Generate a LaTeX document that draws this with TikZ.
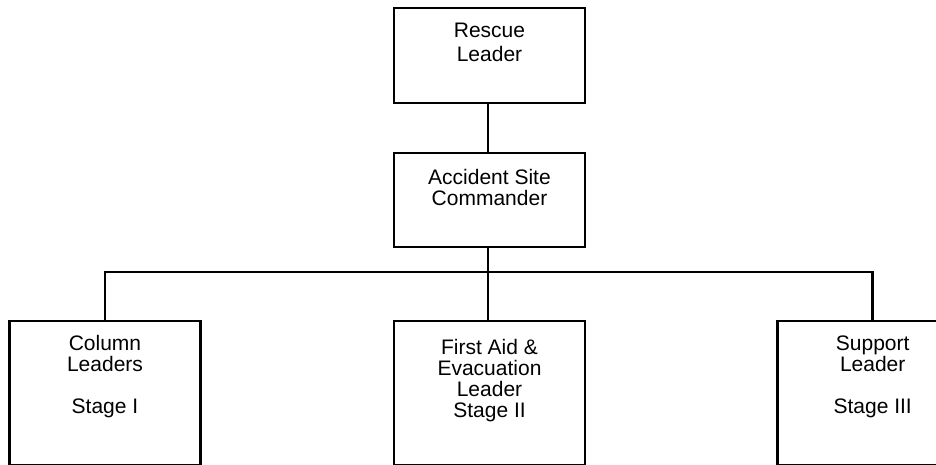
\documentclass[tikz,border=0pt]{standalone}
\usepackage{fontspec}
\setmainfont{Liberation Sans}
\begin{document}
\begin{tikzpicture}[x=1pt,y=-1pt,
  box/.style={draw=black, line width=2.6pt, minimum width=191pt, inner sep=0pt},
  txt/.style={anchor=north, inner sep=0pt, align=center, font=\fontsize{21}{21}\selectfont},
  link/.style={draw=black, line width=2.6pt}]
\useasboundingbox (0,0) rectangle (936,464);
% boxes
\node[box, minimum height=95pt]  (rescue)  at (489.5,55.5) {};
\node[box, minimum height=94pt]  (command) at (489.5,200) {};
\node[box, minimum height=144pt] (column)  at (105,393) {};
\node[box, minimum height=144pt] (aid)     at (489.5,393) {};
\node[box, minimum height=144pt] (support) at (872.7,393) {};
% labels
\node[txt, font=\fontsize{21}{24.5}\selectfont] (trescue) at ([yshift=-16pt]rescue.north) {Rescue\\Leader};
\node[txt, font=\fontsize{21}{21.5}\selectfont] (tcommand) at ([yshift=-17pt]command.north) {Accident Site\\Commander};
\node[txt] (tcolumn) at ([yshift=-15pt]column.north) {Column\\Leaders\\[21pt]Stage I};
\node[txt] (taid) at ([yshift=-19pt]aid.north) {First Aid \&\\Evacuation\\Leader\\Stage II};
\node[txt] (tsupport) at ([yshift=-16pt]support.north) {Support\\Leader\\[21pt]Stage III};
% connectors
\coordinate (bus) at (488,272);
\draw[link] (rescue.south -| bus) -- (command.north -| bus);
\draw[link] (command.south -| bus) -- (bus);
\draw[link] (column.north) |- (bus) -| (support.north);
\draw[link] (bus) -- (aid.north -| bus);
\end{tikzpicture}
\end{document}
